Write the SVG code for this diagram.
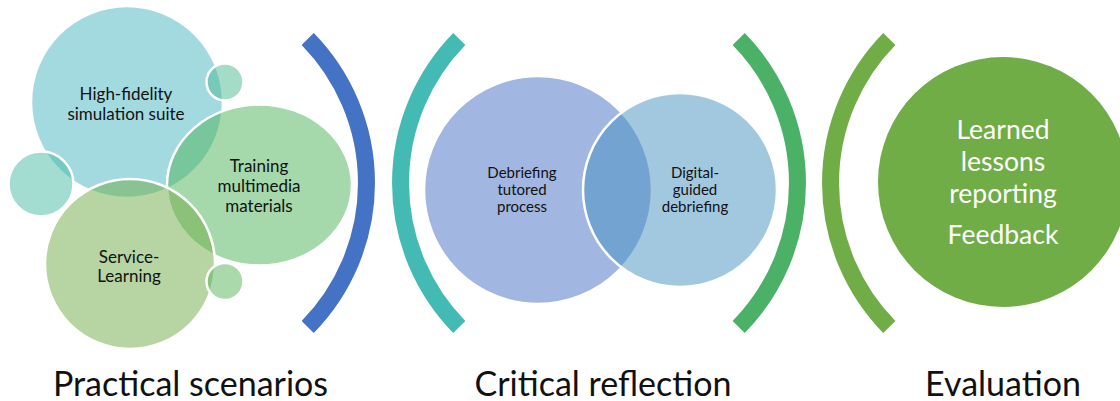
<svg xmlns="http://www.w3.org/2000/svg" width="1120" height="401" viewBox="0 0 1120 401">
  <style>
    .bubble { stroke: #ffffff; stroke-width: 2.5; fill-opacity: 0.5; }
    .arc { fill: none; stroke-width: 17; stroke-linecap: butt; }
    .lbl { font-family: Lato, "Liberation Sans", sans-serif; fill: #111111; text-anchor: middle; }
    .small { font-size: 17px; }
    .mid { font-size: 15px; }
    .big { font-size: 26.5px; fill: #ffffff; }
    .stage { font-size: 34px; }
  </style>
  <rect width="1120" height="401" fill="#ffffff"/>

  <!-- Practical scenarios cluster -->
  <g id="high-fidelity">
    <circle class="bubble" cx="127" cy="102" r="96" fill="#45B5C1" stroke="none"/>
    <text class="lbl small" x="126" y="100">High-fidelity</text>
    <text class="lbl small" x="126" y="120">simulation suite</text>
  </g>
  <g id="dot-top">
    <circle class="bubble" cx="225" cy="82" r="18.5" fill="#4BB991"/>
  </g>
  <g id="dot-left">
    <circle class="bubble" cx="41" cy="184" r="32.5" fill="#47BBA5"/>
  </g>
  <g id="training">
    <ellipse class="bubble" cx="259.5" cy="185" rx="92.5" ry="80.5" fill="#4BB157"/>
    <text class="lbl small" x="259" y="172">Training</text>
    <text class="lbl small" x="259" y="192">multimedia</text>
    <text class="lbl small" x="259" y="212">materials</text>
  </g>
  <g id="service-learning">
    <circle class="bubble" cx="130" cy="264" r="85" fill="#6FAB45"/>
    <text class="lbl small" x="129" y="263">Service-</text>
    <text class="lbl small" x="129" y="282">Learning</text>
  </g>
  <g id="dot-bottom">
    <circle class="bubble" cx="225" cy="281.5" r="18.5" fill="#55B559"/>
  </g>

  <!-- Critical reflection pair -->
  <g id="debriefing-tutored">
    <circle class="bubble" cx="538" cy="190" r="114" fill="#436DC1" stroke="none"/>
    <text class="lbl mid" x="522" y="178">Debriefing</text>
    <text class="lbl mid" x="522" y="195">tutored</text>
    <text class="lbl mid" x="522" y="212">process</text>
  </g>
  <g id="digital-guided">
    <circle class="bubble" cx="680" cy="190" r="97" fill="#4591C1"/>
    <text class="lbl mid" x="695" y="178">Digital-</text>
    <text class="lbl mid" x="695" y="195">guided</text>
    <text class="lbl mid" x="695" y="212">debriefing</text>
  </g>

  <!-- Evaluation -->
  <g id="feedback">
    <circle cx="1003" cy="182" r="125" fill="#70AD47"/>
    <text class="lbl big" x="1003" y="139">Learned</text>
    <text class="lbl big" x="1003" y="171">lessons</text>
    <text class="lbl big" x="1003" y="203">reporting</text>
    <text class="lbl big" x="1003" y="244">Feedback</text>
  </g>

  <!-- bracket arcs separating the stages -->
  <g id="brackets">
    <path class="arc" stroke="#4472C4" d="M 307.7 39 A 205.8 205.8 0 0 1 307.7 327"/>
    <path class="arc" stroke="#44BAB5" d="M 459.3 39 A 205.8 205.8 0 0 0 459.3 327"/>
    <path class="arc" stroke="#4AB166" d="M 738.7 39 A 205.8 205.8 0 0 1 738.7 327"/>
    <path class="arc" stroke="#70AD47" d="M 889.3 39 A 205.8 205.8 0 0 0 889.3 327"/>
  </g>

  <!-- stage captions -->
  <g id="captions">
    <text class="lbl stage" x="190.5" y="396">Practical scenarios</text>
    <text class="lbl stage" x="603" y="396">Critical reflection</text>
    <text class="lbl stage" x="1003" y="396">Evaluation</text>
  </g>
</svg>
